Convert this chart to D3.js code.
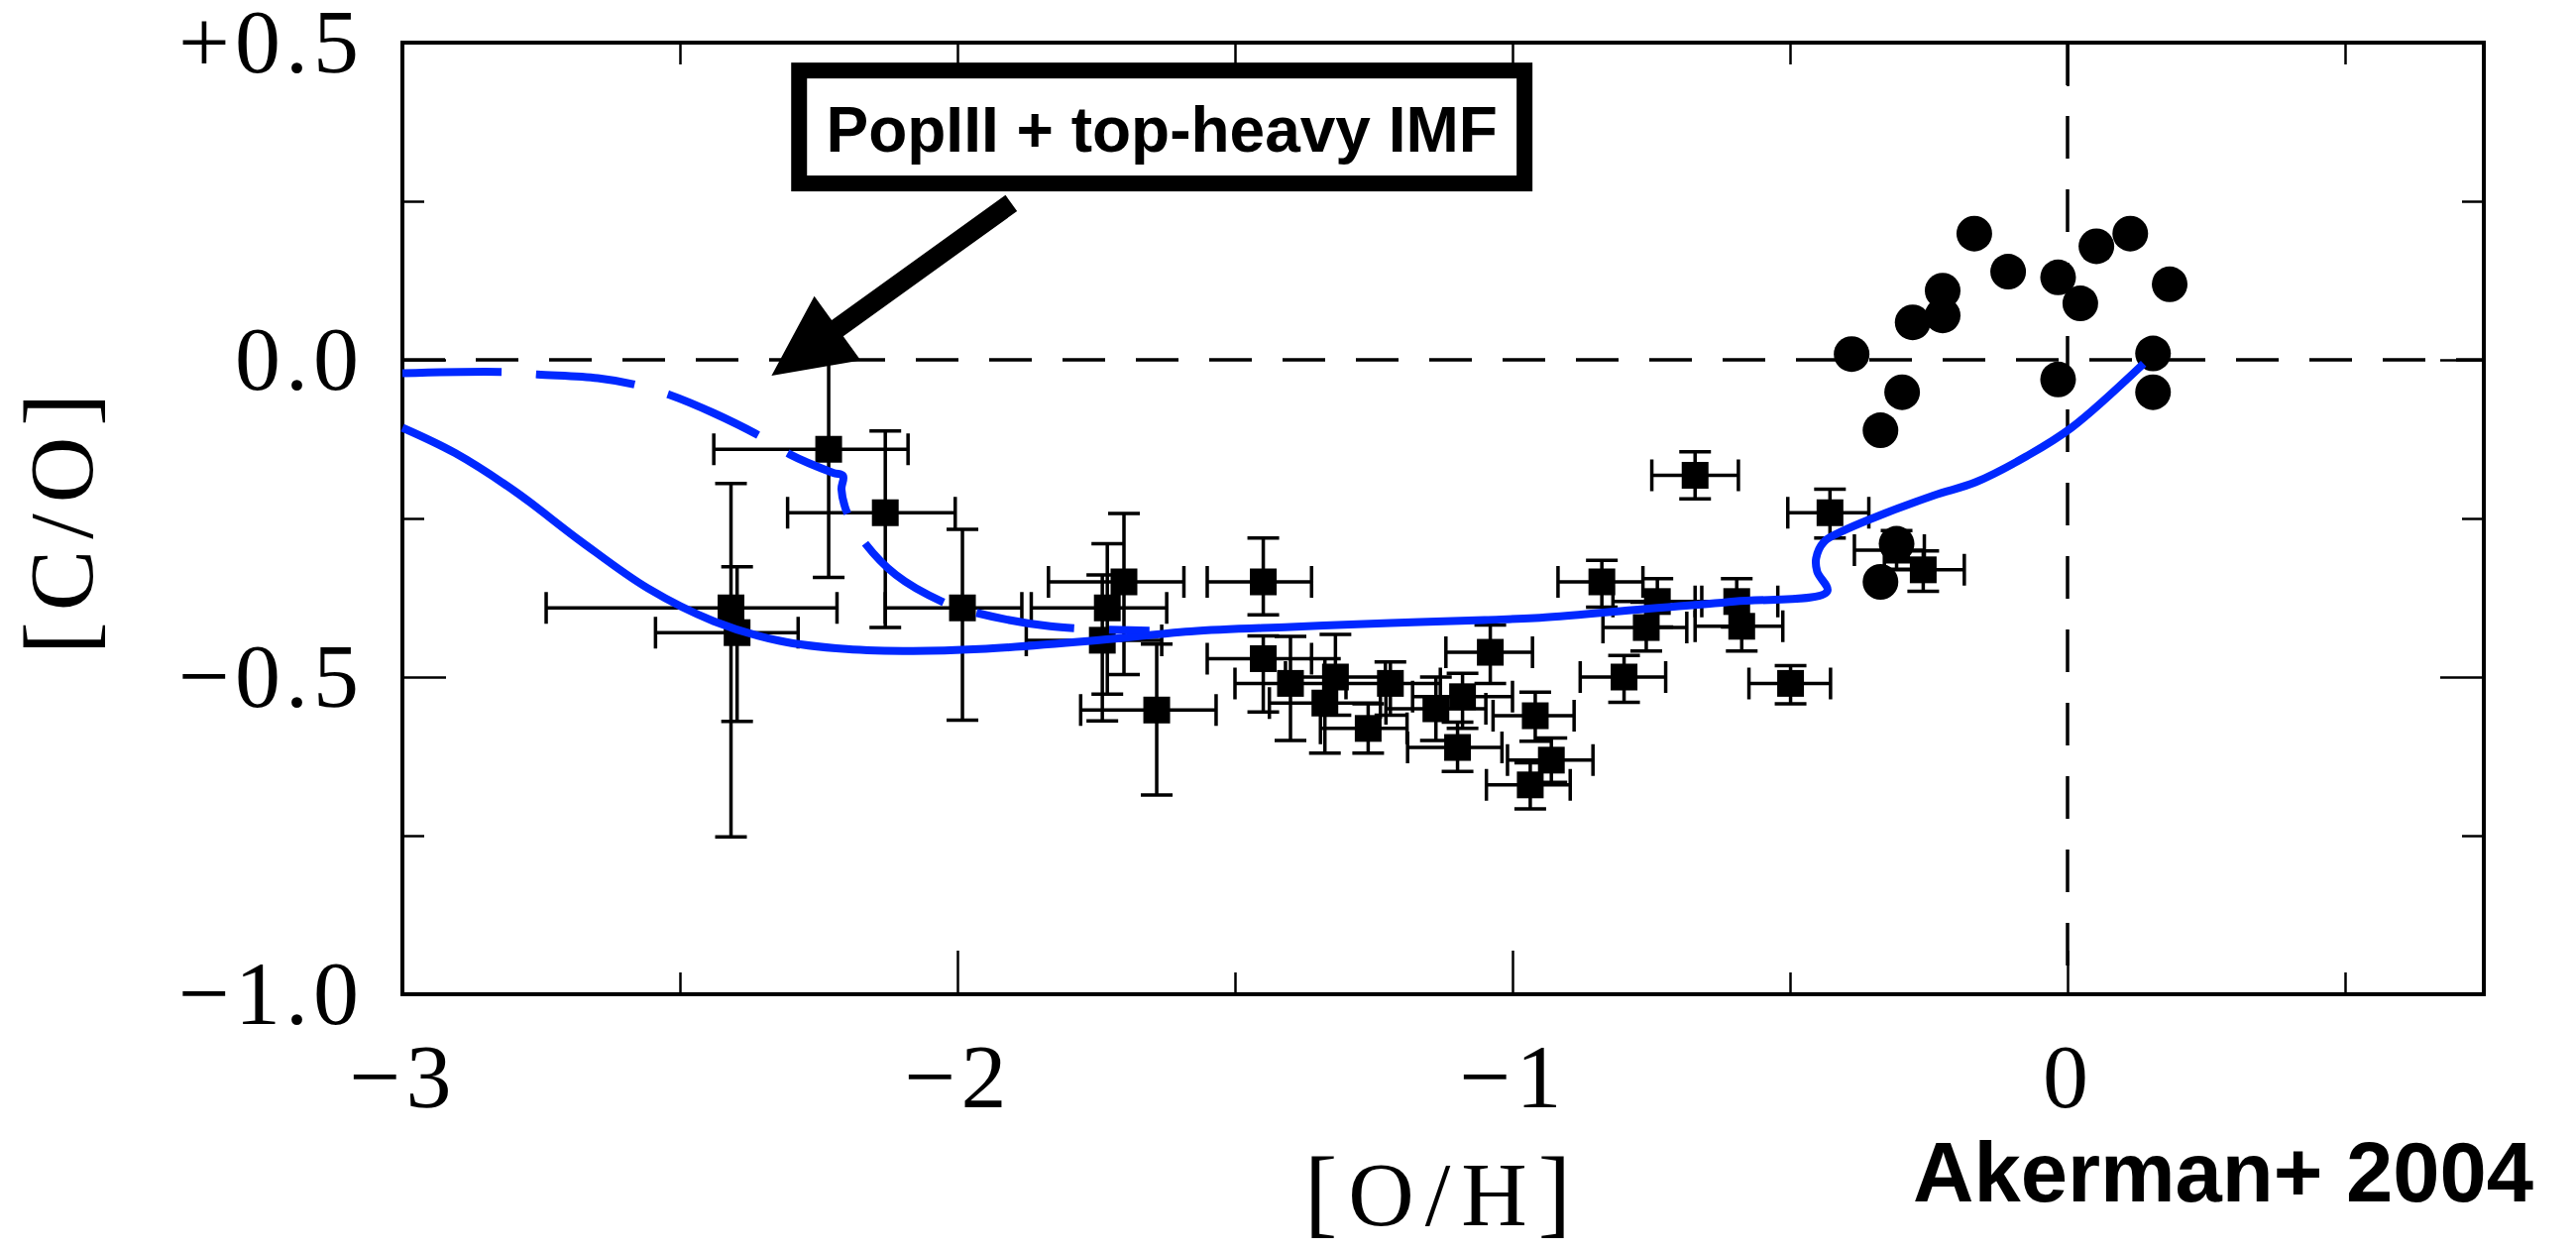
<!DOCTYPE html>
<meta charset="utf-8">
<style>
body { margin: 0; background: #fff; }
.tick line { stroke: #000; stroke-width: 2.5px; }
.tick text { font-family: "Liberation Serif", serif; font-size: 92px; fill: #000; letter-spacing: 5px; }
.domain { display: none; }
.frame { fill: none; stroke: #000; stroke-width: 4px; }
.refline { stroke: #000; stroke-width: 3.5px; stroke-dasharray: 43 31; }
.errbar { stroke: #000; stroke-width: 3.5px; fill: none; }
.model { fill: none; stroke: #0028ff; stroke-width: 8px; stroke-linejoin: round; }
.label { font-family: "Liberation Serif", serif; font-size: 92px; letter-spacing: 11px; }
.note { font-family: "Liberation Sans", Arial, sans-serif; font-weight: bold; }
</style>
<body>
<script src="https://d3js.org/d3.v7.min.js"></script>
<script>
// DLA / halo star points (squares with error bars)
var sqOH  = [-2.232, -2.130, -2.408, -2.397, -1.991, -1.700, -1.730, -1.739, -1.641, -1.449, -1.449, -1.400,
             -1.319, -1.338, -1.260, -1.220, -1.138, -1.090, -1.099, -1.040, -0.959, -0.930, -0.968, -0.839,
             -0.739, -0.759, -0.799, -0.671, -0.596, -0.587, -0.499, -0.428, -0.260, -0.308];
var sqCO  = [-0.141, -0.241, -0.391, -0.430, -0.391, -0.350, -0.391, -0.442, -0.552, -0.350, -0.471, -0.510,
             -0.500, -0.541, -0.581, -0.510, -0.550, -0.531, -0.611, -0.461, -0.561, -0.631, -0.670, -0.350,
             -0.381, -0.422, -0.500, -0.182, -0.381, -0.420, -0.510, -0.241, -0.331, -0.300];
var sqXlo = [0.207, 0.176, 0.333, 0.147, 0.139, 0.136, 0.137, 0.137, 0.137, 0.101, 0.101, 0.100,
             0.090, 0.100, 0.086, 0.100, 0.090, 0.090, 0.090, 0.080, 0.076, 0.079, 0.079, 0.079,
             0.080, 0.078, 0.079, 0.078, 0.075, 0.084, 0.075, 0.076, 0.070, 0.076];
var sqXhi = [0.143, 0.126, 0.191, 0.110, 0.107, 0.108, 0.107, 0.107, 0.107, 0.087, 0.087, 0.100,
             0.090, 0.100, 0.070, 0.090, 0.090, 0.090, 0.080, 0.076, 0.070, 0.075, 0.072, 0.074,
             0.080, 0.073, 0.075, 0.078, 0.074, 0.074, 0.072, 0.070, 0.074, 0.050];
var sqYlo = [0.202, 0.181, 0.361, 0.140, 0.177, 0.146, 0.136, 0.127, 0.134, 0.052, 0.084, 0.090,
             0.060, 0.079, 0.039, 0.050, 0.050, 0.050, 0.038, 0.049, 0.040, 0.035, 0.038, 0.040,
             0.040, 0.037, 0.040, 0.037, 0.040, 0.039, 0.032, 0.040, 0.034, 0.030];
var sqYhi = [0.160, 0.129, 0.196, 0.104, 0.124, 0.108, 0.101, 0.103, 0.104, 0.069, 0.036, 0.074,
             0.067, 0.070, 0.039, 0.034, 0.050, 0.037, 0.040, 0.043, 0.037, 0.035, 0.035, 0.034,
             0.036, 0.040, 0.034, 0.037, 0.036, 0.040, 0.028, 0.037, 0.030, 0.031];

// disk stars (filled circles)
var diskOH = [-0.168, 0.113, 0.052, -0.107, -0.017, 0.184, 0.023, -0.225, -0.225, -0.279, -0.389, 0.154,
              -0.017, 0.154, -0.298, -0.337, -0.308, -0.337];
var diskCO = [0.199, 0.199, 0.179, 0.139, 0.130, 0.119, 0.089, 0.109, 0.070, 0.059, 0.009, 0.010,
              -0.031, -0.051, -0.051, -0.111, -0.290, -0.350];

// chemical evolution model (solid blue)
var modelOH = [-3.0, -2.905, -2.796, -2.677, -2.558, -2.439, -2.320, -2.200, -2.08, -1.96, -1.76, -1.58,
               -1.40, -1.22, -1.05, -0.96, -0.78, -0.60, -0.433, -0.451, -0.453, -0.439, -0.403, -0.361,
               -0.242, -0.166, -0.074, 0.007, 0.137];
var modelCO = [-0.107, -0.147, -0.208, -0.287, -0.360, -0.412, -0.443, -0.456, -0.459, -0.456, -0.443,
               -0.428, -0.421, -0.415, -0.410, -0.407, -0.394, -0.381, -0.365, -0.334, -0.313, -0.287, -0.269,
               -0.253, -0.214, -0.193, -0.152, -0.107, -0.006];

// PopIII + top-heavy IMF model (dashed blue)
var popOH = [-3.0, -2.82, -2.757, -2.648, -2.576, -2.519, -2.439, -2.352, -2.302, -2.224, -2.206, -2.209,
             -2.198, -2.171, -2.111, -2.028, -1.974, -1.833, -1.654];
var popCO = [-0.021, -0.019, -0.023, -0.029, -0.040, -0.055, -0.084, -0.122, -0.149, -0.178, -0.183, -0.204,
             -0.243, -0.284, -0.339, -0.381, -0.397, -0.420, -0.427];

var xMajor = [-3, -2, -1, 0], xMinor = [-2.5, -1.5, -0.5, 0.5];
var yMajor = [-1, -0.5, 0, 0.5], yMinor = [-0.75, -0.25, 0.25];

var W = 2599, H = 1261;
var x = d3.scaleLinear().domain([-3, 0.75]).range([406, 2506]);
var y = d3.scaleLinear().domain([-1, 0.5]).range([1003, 43]);

var svg = d3.select("body").append("svg")
    .attr("width", W).attr("height", H);

// ticks on all four sides, pointing inward
function inward(axis, vals, len, fmt, pad) {
  return axis.tickValues(vals).tickSizeInner(-len).tickSizeOuter(0)
    .tickPadding(pad || 0).tickFormat(fmt || "");
}
var fmtX = function(d) { return d3.format("d")(d); };
var fmtY = function(d) { return d === 0 ? "0.0" : d3.format("+.1f")(d); };

svg.append("g").attr("transform", "translate(0," + y(-1) + ")").call(inward(d3.axisBottom(x), xMajor, 44, fmtX, 49));
svg.append("g").attr("transform", "translate(0," + y(-1) + ")").call(inward(d3.axisBottom(x), xMinor, 22));
svg.append("g").attr("transform", "translate(0," + y(0.5) + ")").call(inward(d3.axisTop(x), xMajor, 44));
svg.append("g").attr("transform", "translate(0," + y(0.5) + ")").call(inward(d3.axisTop(x), xMinor, 22));
svg.append("g").attr("transform", "translate(" + x(-3) + ",0)").call(inward(d3.axisLeft(y), yMajor, 44, fmtY, 39));
svg.append("g").attr("transform", "translate(" + x(-3) + ",0)").call(inward(d3.axisLeft(y), yMinor, 22));
svg.append("g").attr("transform", "translate(" + x(0.75) + ",0)").call(inward(d3.axisRight(y), yMajor, 44));
svg.append("g").attr("transform", "translate(" + x(0.75) + ",0)").call(inward(d3.axisRight(y), yMinor, 22));

// solar reference lines
svg.append("line").attr("class", "refline")
    .attr("x1", x(-3)).attr("x2", x(0.75)).attr("y1", y(0)).attr("y2", y(0));
svg.append("line").attr("class", "refline")
    .attr("x1", x(0)).attr("x2", x(0)).attr("y1", y(0.5)).attr("y2", y(-1));

svg.append("rect").attr("class", "frame")
    .attr("x", x(-3)).attr("y", y(0.5))
    .attr("width", x(0.75) - x(-3)).attr("height", y(-1) - y(0.5));

// error bars
var cap = 16;
var pts = sqOH.map(function(d, i) {
  return {oh: d, co: sqCO[i], xl: sqXlo[i], xh: sqXhi[i], yl: sqYlo[i], yh: sqYhi[i]};
});
var eb = svg.append("g").attr("class", "errbar");
pts.forEach(function(p) {
  var cx = x(p.oh), cy = y(p.co);
  var x0 = x(p.oh - p.xl), x1 = x(p.oh + p.xh);
  var y0 = y(p.co - p.yl), y1 = y(p.co + p.yh);
  eb.append("path").attr("d",
    "M" + x0 + "," + cy + "H" + x1 +
    "M" + x0 + "," + (cy - cap) + "V" + (cy + cap) +
    "M" + x1 + "," + (cy - cap) + "V" + (cy + cap) +
    "M" + cx + "," + y0 + "V" + y1 +
    "M" + (cx - cap) + "," + y0 + "H" + (cx + cap) +
    "M" + (cx - cap) + "," + y1 + "H" + (cx + cap));
});

var sq = 27;
svg.append("g").selectAll("rect").data(pts).join("rect")
    .attr("x", function(d) { return x(d.oh) - sq / 2; })
    .attr("y", function(d) { return y(d.co) - sq / 2; })
    .attr("width", sq).attr("height", sq).attr("fill", "#000");

svg.append("g").selectAll("circle").data(diskOH).join("circle")
    .attr("cx", function(d) { return x(d); })
    .attr("cy", function(d, i) { return y(diskCO[i]); })
    .attr("r", 18).attr("fill", "#000");

// model curves
var line = d3.line()
    .x(function(d) { return x(d[0]); })
    .y(function(d) { return y(d[1]); })
    .curve(d3.curveCatmullRom.alpha(0.5));

svg.append("path").attr("class", "model")
    .attr("d", line(modelOH.map(function(d, i) { return [d, modelCO[i]]; })));
svg.append("path").attr("class", "model")
    .attr("stroke-dasharray", "100 35")
    .attr("d", line(popOH.map(function(d, i) { return [d, popCO[i]]; })));

// annotation box
var box = {x0: -2.2853, x1: -0.9783, y0: 0.456, y1: 0.278};
svg.append("rect")
    .attr("x", x(box.x0)).attr("y", y(box.y0))
    .attr("width", x(box.x1) - x(box.x0)).attr("height", y(box.y1) - y(box.y0))
    .attr("fill", "#fff").attr("stroke", "#000").attr("stroke-width", 16);
svg.append("text").attr("class", "note")
    .attr("x", (x(box.x0) + x(box.x1)) / 2).attr("y", y(0.328))
    .attr("text-anchor", "middle").attr("font-size", 64)
    .text("PopIII + top-heavy IMF");

// arrow
var a0 = [x(-1.903), y(0.247)], a1 = [x(-2.335), y(-0.025)];
var dx = a1[0] - a0[0], dy = a1[1] - a0[1], L = Math.sqrt(dx * dx + dy * dy);
var ux = dx / L, uy = dy / L, nx = -uy, ny = ux;
var hl = 82, hw = 40, sw = 10;
var bx = a1[0] - ux * hl, by = a1[1] - uy * hl;
var arrowPts = [
  [a0[0] + nx * sw, a0[1] + ny * sw],
  [bx + nx * sw, by + ny * sw],
  [bx + nx * hw, by + ny * hw],
  a1,
  [bx - nx * hw, by - ny * hw],
  [bx - nx * sw, by - ny * sw],
  [a0[0] - nx * sw, a0[1] - ny * sw]
];
svg.append("path").attr("d", "M" + arrowPts.join("L") + "Z").attr("fill", "#000");

// axis titles, brackets set a little larger than the letters
function title(sel, a, b) {
  sel.append("tspan").attr("font-size", 100).text("[");
  sel.append("tspan").text(a + "/" + b);
  sel.append("tspan").attr("font-size", 100).text("]");
}
svg.append("text").attr("class", "label")
    .attr("x", (x(-3) + x(0.75)) / 2).attr("y", 1236)
    .attr("text-anchor", "middle").call(title, "O", "H");
svg.append("text").attr("class", "label")
    .attr("transform", "translate(93," + y(-0.25) + ") rotate(-90)")
    .attr("text-anchor", "middle").call(title, "C", "O");

svg.append("text").attr("class", "note")
    .attr("x", 1930).attr("y", 1212).attr("font-size", 85)
    .text("Akerman+ 2004");
</script>
</body>
